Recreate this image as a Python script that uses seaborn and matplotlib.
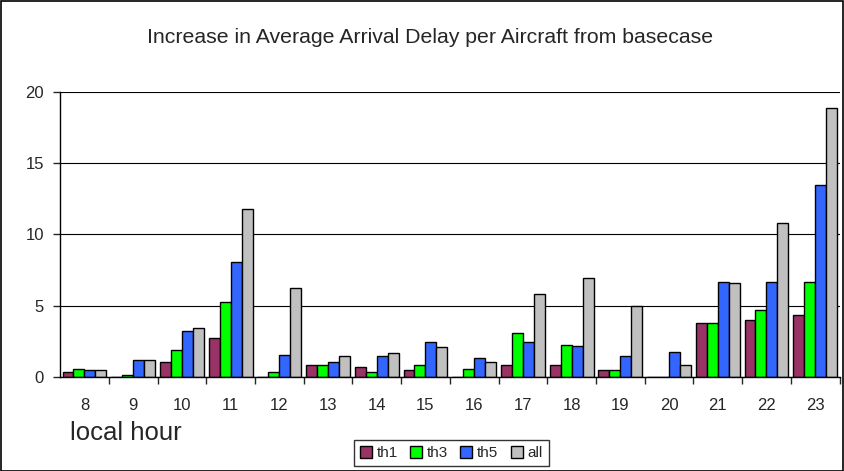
import numpy as np
import pandas as pd
import matplotlib
matplotlib.use("Agg")
import matplotlib.pyplot as plt
import seaborn as sns
from matplotlib.patches import Rectangle

# --- Daten ---
hours = [8, 9, 10, 11, 12, 13, 14, 15, 16, 17, 18, 19, 20, 21, 22, 23]
th1 = [0.37, 0.0, 1.05, 2.75, 0.0, 0.8, 0.7, 0.5, 0.0, 0.8, 0.8, 0.49, 0.0, 3.8, 4.02, 4.32]
th3 = [0.55, 0.15, 1.85, 5.25, 0.35, 0.8, 0.37, 0.86, 0.58, 3.04, 2.24, 0.49, 0.0, 3.8, 4.72, 6.68]
th5 = [0.47, 1.15, 3.2, 8.05, 1.55, 1.07, 1.47, 2.43, 1.29, 2.43, 2.15, 1.47, 1.75, 6.68, 6.68, 13.43]
all_ = [0.47, 1.15, 3.4, 11.75, 6.25, 1.47, 1.66, 2.06, 1.07, 5.79, 6.94, 4.95, 0.86, 6.57, 10.79, 18.9]
series = ["th1", "th3", "th5", "all"]
colors = ["#993366", "#00FF00", "#3366FF", "#C0C0C0"]

df = pd.DataFrame({"hour": hours, "th1": th1, "th3": th3, "th5": th5, "all": all_})
long = df.melt(id_vars="hour", var_name="serie", value_name="delay")

sns.set_style("white")
plt.rcParams["font.family"] = ["Liberation Sans", "DejaVu Sans"]

fig = plt.figure(figsize=(8.44, 4.71), dpi=100)
ax = fig.add_axes([0.0712, 0.2, 0.9235, 0.605])

sns.barplot(data=long, x="hour", y="delay", hue="serie", hue_order=series,
            palette=colors, width=0.9, edgecolor="black", linewidth=1,
            saturation=1, ax=ax, legend=True)

ax.set_ylim(0, 20)
ax.set_xlim(-0.5, len(hours) - 0.5)
ax.set_yticks([0, 5, 10, 15, 20])
ax.yaxis.grid(True, color="black", linewidth=0.8)
ax.set_axisbelow(True)
ax.set_xlabel("")
ax.set_ylabel("")
for s in ["top", "right"]:
    ax.spines[s].set_visible(False)
for s in ["left", "bottom"]:
    ax.spines[s].set_color("black")
    ax.spines[s].set_linewidth(1)

ax.tick_params(axis="y", left=True, length=5, width=1, labelsize=12, pad=6.5)
ax.tick_params(axis="x", which="major", length=0, labelsize=12, pad=15)
ax.set_xticks(np.arange(len(hours)) + 0.5, minor=True)
ax.tick_params(axis="x", which="minor", bottom=True, length=5, width=1)

fig.text(0.51, 0.921, "Increase in Average Arrival Delay per Aircraft from basecase",
         ha="center", va="center", fontsize=15.3)
fig.text(0.083, 0.081, "local hour", ha="left", va="center", fontsize=18.5)

ax.legend(loc="center", bbox_to_anchor=(0.5345, 0.038), bbox_transform=fig.transFigure,
          ncol=4, frameon=True, fancybox=False, edgecolor="black", fontsize=11,
          handlelength=0.8, handleheight=0.8, handletextpad=0.3, columnspacing=0.8,
          borderpad=0.4)

fig.add_artist(Rectangle((0.0006, 0.001), 0.9982, 0.997, transform=fig.transFigure,
                         fill=False, edgecolor="black", linewidth=1.2))

fig.savefig("out.png", dpi=100)
